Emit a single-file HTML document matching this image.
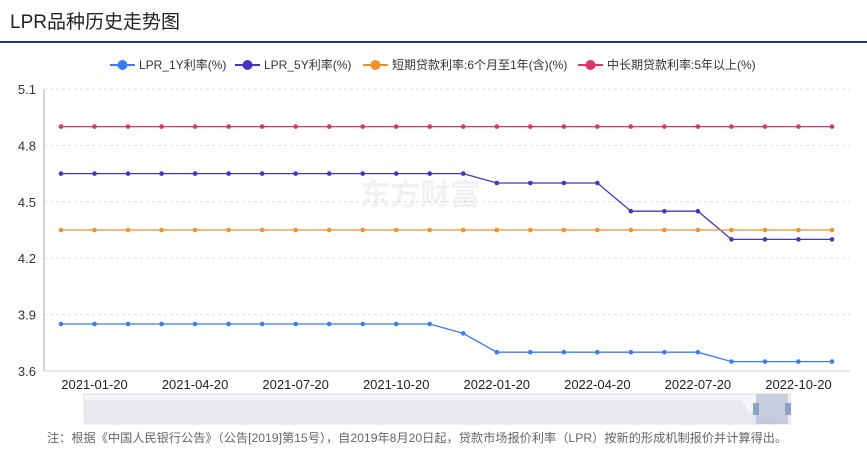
<!DOCTYPE html>
<html><head><meta charset="utf-8"><style>
body{margin:0;background:#fff;width:867px;height:450px;overflow:hidden;font-family:"Liberation Sans","Noto Sans CJK SC",sans-serif;}
</style></head><body>
<svg id="c" width="867" height="450" xmlns="http://www.w3.org/2000/svg" style="position:absolute;left:0;top:0">
<text x="10" y="28" font-size="19" fill="#222" font-family="Liberation Sans, Noto Sans CJK SC, sans-serif">LPR品种历史走势图</text>
<rect x="0" y="41" width="867" height="2" fill="#1f3a75"/>
<g id="legend"></g>
<g id="grid"></g><g id="series"></g>
<text x="420" y="205" font-size="30" font-weight="bold" fill="#000" opacity="0.05" text-anchor="middle">东方财富</text>
<g>
<rect x="84" y="394" width="706" height="30" fill="#f5f6f8" stroke="#dcdfe6"/>
<path d="M84,400 L740,400 L745,405 L748,412 L756,412 L760,417 L790,420 L790,424 L84,424 Z" fill="#e6e8ec"/>
<rect x="756" y="394" width="32" height="30" fill="#a9b6cf" opacity="0.6"/>
<rect x="753" y="403" width="6" height="12" fill="#8ea2c4"/>
<rect x="785" y="403" width="6" height="12" fill="#8ea2c4"/>
</g>
<text x="47" y="442" font-size="12.2" fill="#666">注：根据《中国人民银行公告》（公告[2019]第15号），自2019年8月20日起，贷款市场报价利率（LPR）按新的形成机制报价并计算得出。</text>
</svg>
<script>
const dates=["2020-12-21","2021-01-20","2021-02-20","2021-03-22","2021-04-20","2021-05-20","2021-06-21","2021-07-20","2021-08-20","2021-09-22","2021-10-20","2021-11-22","2021-12-20","2022-01-20","2022-02-21","2022-03-21","2022-04-20","2022-05-20","2022-06-20","2022-07-20","2022-08-22","2022-09-20","2022-10-20","2022-11-21"];
const lpr1y=[3.85,3.85,3.85,3.85,3.85,3.85,3.85,3.85,3.85,3.85,3.85,3.85,3.80,3.70,3.70,3.70,3.70,3.70,3.70,3.70,3.65,3.65,3.65,3.65];
const lpr5y=[4.65,4.65,4.65,4.65,4.65,4.65,4.65,4.65,4.65,4.65,4.65,4.65,4.65,4.60,4.60,4.60,4.60,4.45,4.45,4.45,4.30,4.30,4.30,4.30];
const shortRate=[4.35,4.35,4.35,4.35,4.35,4.35,4.35,4.35,4.35,4.35,4.35,4.35,4.35,4.35,4.35,4.35,4.35,4.35,4.35,4.35,4.35,4.35,4.35,4.35];
const longRate=[4.90,4.90,4.90,4.90,4.90,4.90,4.90,4.90,4.90,4.90,4.90,4.90,4.90,4.90,4.90,4.90,4.90,4.90,4.90,4.90,4.90,4.90,4.90,4.90];
const yTicks=[3.6,3.9,4.2,4.5,4.8,5.1];
const xTickIdx=[1,4,7,10,13,16,19,22];
const NS="http://www.w3.org/2000/svg";
const X0=61,X1=832,Y0=371,Y1=89,YMIN=3.6,YMAX=5.1;
const xs=i=>X0+(X1-X0)*i/(dates.length-1);
const ys=v=>Y0-(v-YMIN)/(YMAX-YMIN)*(Y0-Y1);
function mk(t,a,p){const e=document.createElementNS(NS,t);for(const k in a)e.setAttribute(k,a[k]);p.appendChild(e);return e;}
const grid=document.getElementById('grid');
yTicks.forEach(v=>{
 const l=mk('line',{x1:44,x2:850,y1:ys(v),y2:ys(v),stroke:'#dde3ea','stroke-dasharray':'3,3'},grid);
 
 
 const t=mk('text',{x:36,y:ys(v)+5,'font-size':13,fill:'#333','text-anchor':'end'},grid);
 t.textContent=v.toFixed(1);
 
 
});
const ax=mk('line',{x1:44,x2:44,y1:89,y2:371,stroke:'#aaa'},grid);


const bx=mk('line',{x1:44,x2:850,y1:371,y2:371,stroke:'#ccc'},grid);


xTickIdx.forEach(i=>{
 const t=mk('text',{x:xs(i),y:389,'font-size':13,fill:'#222','text-anchor':'middle'},grid);
 t.textContent=dates[i].slice(0,8)+"20";
 
 
});
const series=[[lpr1y,'#3b7cf5','LPR_1Y利率(%)'],[lpr5y,'#4a33c0','LPR_5Y利率(%)'],[shortRate,'#f0922b','短期贷款利率:6个月至1年(含)(%)'],[longRate,'#e0336b','中长期贷款利率:5年以上(%)']];
const sg=document.getElementById('series');
series.forEach(([d,c],k)=>{
 const p=mk('polyline',{points:d.map((v,i)=>xs(i)+','+ys(v)).join(' '),fill:'none',stroke:c,'stroke-width':1.3},sg);
 
 
 d.forEach((v,i)=>{const m=mk('circle',{cx:xs(i),cy:ys(v),r:2.3,fill:c},sg);
  
  });
});
const lg=document.getElementById('legend');
const lx=[110,235,363,578];
series.forEach(([d,c,n],k)=>{
 const x=lx[k];
 mk('line',{x1:x,x2:x+25,y1:65,y2:65,stroke:c,'stroke-width':2},lg);
 const ci=mk('circle',{cx:x+12.5,cy:65,r:5,fill:c},lg);
 
 
 const t=mk('text',{x:x+29,y:69,'font-size':12,fill:'#333'},lg);
 t.textContent=n;
 
 
});
</script>
</body></html>
